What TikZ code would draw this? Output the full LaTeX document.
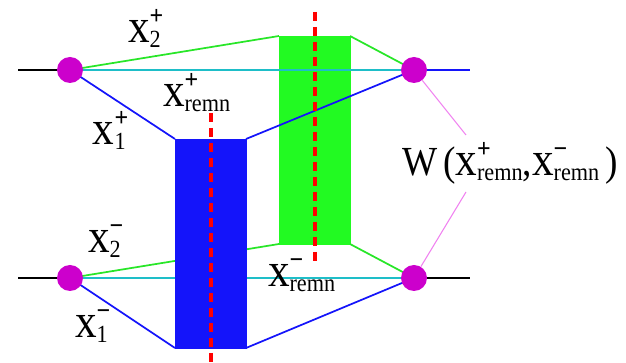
\documentclass[tikz,border=0pt]{standalone}
\usepackage{fontspec}
\setmainfont{Liberation Serif}
\usetikzlibrary{positioning}
\definecolor{vtxc}{RGB}{204,0,204}
\definecolor{barg}{RGB}{34,250,34}
\definecolor{lineg}{RGB}{40,230,40}
\definecolor{barb}{RGB}{20,20,250}
\definecolor{linec}{RGB}{30,190,200}
\definecolor{wpink}{RGB}{240,130,240}
\definecolor{cutred}{RGB}{255,0,0}
\pgfdeclarelayer{back}
\pgfdeclarelayer{mid}
\pgfsetlayers{back,mid,main}
\newcommand{\mn}{\char"2212}
\newcommand{\xsym}[2]{{\fontsize{36}{36}\selectfont x}\rlap{\raisebox{14pt}{\fontsize{20}{20}\selectfont\bfseries #1}}\raisebox{-3.75pt}{\fontsize{18.5}{18.5}\selectfont #2}}
\newcommand{\squeeze}[1]{\scalebox{0.9}[1]{#1}}

\begin{document}
\begin{tikzpicture}[
    x=0.75pt, y=-0.75pt,
    vertex/.style={circle, fill=vtxc, minimum size=19.5pt, inner sep=0pt},
    greenbar/.style={rectangle, fill=barg, draw=barg, minimum width=53.25pt,
        minimum height=156pt, inner sep=0pt, outer sep=0pt},
    bluebar/.style={rectangle, fill=barb, draw=barb, minimum width=53.25pt,
        minimum height=156.75pt, inner sep=0pt, outer sep=0pt},
    tail/.style={black, line width=1.3pt},
    gline/.style={lineg, line width=1.3pt},
    bline/.style={barb, line width=1.3pt},
    cline/.style={linec, line width=1.3pt},
    cutline/.style={cutred, line width=3pt, dash pattern=on 7pt off 4.25pt},
    wline/.style={wpink, line width=0.8pt},
    lab/.style={anchor=base west, inner sep=0pt, outer sep=0pt}
]
\useasboundingbox (0,0) rectangle (626,363);
%
\begin{pgfonlayer}{back}
\node[greenbar] (gbar) at (314.5,140) {};
\end{pgfonlayer}
\node[bluebar] (bbar) at (210.5,243.5) {};
%
\node[vertex] (inTL) at (70,70) {};
\node[vertex] (inTR) at (414,70) {};
\node[vertex] (inBL) at (70,278) {};
\node[vertex] (inBR) at (414,278) {};
\coordinate (endTL) at (18,70);
\coordinate (endTR) at (470,70);
\coordinate (endBL) at (18,278);
\coordinate (endBR) at (470,278);
\coordinate (wtop) at (466,135);
\coordinate (wbot) at (466,192);
%
\begin{pgfonlayer}{mid}
\draw[tail] (endTL) -- (inTL.center);
\draw[bline] (inTR.center) -- (endTR);
\draw[tail] (endBL) -- (inBL.center);
\draw[tail] (inBR.center) -- (endBR);
\draw[cline] (inTL.center) -- (inTR.center);
\draw[cline] (inBL.center) -- (inBR.center);
\draw[gline] (inTL.center) -- (gbar.north west) (gbar.north east) -- (inTR.center);
\draw[gline] (inBL.center) -- (gbar.south west) (gbar.south east) -- (inBR.center);
\draw[bline] (inTL.center) -- (bbar.north west) (bbar.north east) -- (inTR.center);
\draw[bline] (inBL.center) -- (bbar.south west) (bbar.south east) -- (inBR.center);
\draw[wline] (inTR) -- (wtop);
\draw[wline] (wbot) -- (inBR);
\end{pgfonlayer}
%
\coordinate (cutAtop) at (210.5,113);
\coordinate (cutAbot) at (210.5,363);
\coordinate (cutBtop) at (314.5,12);
\coordinate (cutBbot) at (314.5,265);
\draw[cutline] (cutAtop) -- (cutAbot);
\draw[cutline] (cutBtop) -- (cutBbot);
%
\node[lab] (xtwoplus) at (128,43) {\squeeze{\xsym{+}{2}}};
\node[lab] (xoneplus) at (93,145) {\squeeze{\xsym{+}{1}}};
\node[lab] (xremplus) at (163,107) {\squeeze{\xsym{+}{remn}}};
\node[lab] (xtwominus) at (88,253) {\squeeze{\xsym{\mn}{2}}};
\node[lab] (xoneminus) at (75,338) {\squeeze{\xsym{\mn}{1}}};
\node[lab] (xremminus) at (268,287) {\squeeze{\xsym{\mn}{remn}}};
\node[lab] (wlabel) at (402,176)
    {\squeeze{\fontsize{31}{31}\selectfont W\kern5pt(\xsym{+}{remn},\xsym{\mn}{remn}\kern5pt)}};
\end{tikzpicture}
\end{document}
